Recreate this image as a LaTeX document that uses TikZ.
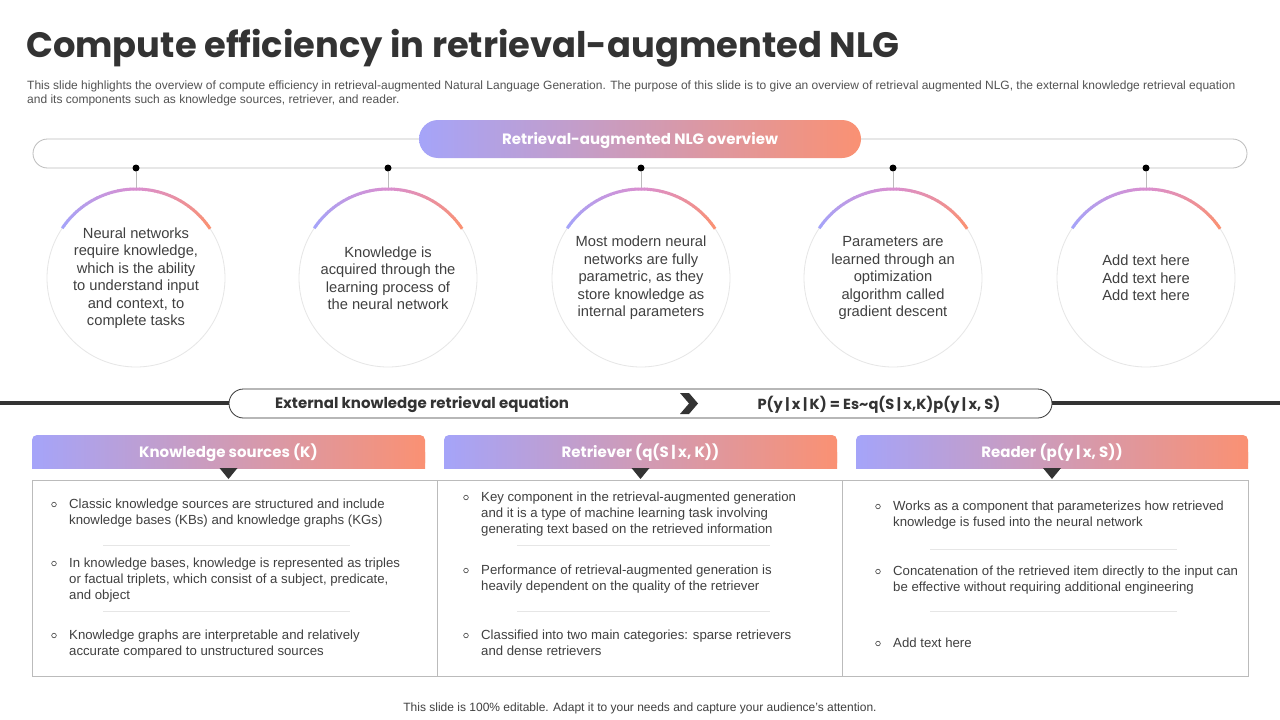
\documentclass[tikz,border=0pt]{standalone}
\usepackage{fontspec}
\setmainfont{Liberation Sans}
\newfontfamily\pop{Poppins}
\usetikzlibrary{calc}
\definecolor{lav}{HTML}{A5A4F9}
\definecolor{midc}{HTML}{D98FD0}
\definecolor{sal}{HTML}{FA9173}
\definecolor{ink}{HTML}{333333}
\definecolor{txt}{HTML}{404040}
\definecolor{linegray}{HTML}{BBBBBB}
\definecolor{faint}{HTML}{E6E6E6}
\tikzset{
  grad/.style={left color=lav, middle color=midc, right color=sal},
  circ/.style={circle, draw=faint, line width=0.8pt, minimum size=178pt, inner sep=0pt},
  ctext/.style={align=center, font=\fontsize{14.7}{17.5}\selectfont, text=txt, inner sep=0pt},
  dotn/.style={circle, fill=black, minimum size=7pt, inner sep=0pt},
  hdrtext/.style={font=\pop\bfseries\fontsize{15}{18}\selectfont, text=white, inner sep=0pt},
  bul/.style={anchor=base west, align=left, font=\fontsize{13.2}{16}\selectfont, text=txt, inner sep=0pt},
  bulmark/.style={circle, draw=txt, line width=0.6pt, minimum size=4.6pt, inner sep=0pt},
  sepline/.style={draw=faint, line width=0.8pt},
  tri/.style={fill=ink},
}
\newcommand\gradarcc[2]{%
  \foreach \k in {0,...,27}{%
    \pgfmathsetmacro\pp{100-\k*100/27}%
    \draw[lav!\pp!midc, line width=3pt] ($(#1,#2)+(-146+2*\k:89)$) arc[start angle=-146+2*\k, end angle=-143.6+2*\k, radius=89];
    \draw[midc!\pp!sal, line width=3pt] ($(#1,#2)+(-90+2*\k:89)$) arc[start angle=-90+2*\k, end angle=-87.6+2*\k, radius=89];
  }%
}
\begin{document}
\begin{tikzpicture}[x=1pt, y=-1pt]
\useasboundingbox[fill=white] (0,0) rectangle (1280,720);

% title
\node[anchor=base west, inner sep=0pt, font=\pop\bfseries\fontsize{35.3}{40}\selectfont, text=ink] (title) at (26,57) {Compute efficiency in retrieval-augmented NLG};
% (base anchor of a multi-line node = last line)
\node[anchor=base west, inner sep=0pt, align=left, font=\fontsize{12}{14}\selectfont, text=txt!90] (sub) at (27,103) {This slide highlights the overview of compute efficiency in retrieval-augmented Natural Language Generation. The purpose of this slide is to give an overview of retrieval augmented NLG, the external knowledge retrieval equation\\and its components such as knowledge sources, retriever, and reader.};

% top bar and banner
\node[draw=linegray, line width=0.8pt, rounded corners=14.5pt, minimum width=1214pt, minimum height=29pt, inner sep=0pt] (bar) at (640,153.5) {};
\node[grad, rounded corners=19pt, minimum width=442pt, minimum height=38pt, inner sep=0pt] (banner) at (640,139) {};
\node[font=\pop\bfseries\fontsize{15}{18}\selectfont, text=white, inner sep=0pt] (bannertext) at (640,140.5) {Retrieval-augmented NLG overview};

% circles
\foreach \i/\cx in {1/136,2/388,3/641,4/893,5/1146}{
  \node[circ] (c\i) at (\cx,278) {};
  \node[dotn] (d\i) at (\cx,168) {};
  \draw[linegray, line width=0.8pt] (d\i) -- (c\i.north);
  \gradarcc{\cx}{278}
}
\node[ctext] (t1) at (c1) {Neural networks\\require knowledge,\\which is the ability\\to understand input\\and context, to\\complete tasks};
\node[ctext] (t2) at (c2) {Knowledge is\\acquired through the\\learning process of\\the neural network};
\node[ctext] (t3) at (c3) {Most modern neural\\networks are fully\\parametric, as they\\store knowledge as\\internal parameters};
\node[ctext] (t4) at (c4) {Parameters are\\learned through an\\optimization\\algorithm called\\gradient descent};
\node[ctext] (t5) at (c5) {Add text here\\Add text here\\Add text here};

% equation row
\coordinate (lineL) at (0,403);
\coordinate (lineR) at (1280,403);
\draw[ink, line width=4pt] (lineL) -- (lineR);
\node[draw=ink, fill=white, line width=0.8pt, rounded corners=14.5pt, minimum width=823pt, minimum height=29pt, inner sep=0pt] (eq) at (640.5,403.5) {};
\node[font=\pop\bfseries\fontsize{15}{18}\selectfont, text=ink, inner sep=0pt] (eqlabel) at (422,405) {External knowledge retrieval equation};
\fill[ink] (680,393) -- (689,393) -- (698,403.5) -- (689,414) -- (680,414) -- (689,403.5) -- cycle;
\node[font=\pop\bfseries\fontsize{14.6}{18}\selectfont, text=ink, inner sep=0pt] (eqtext) at (879,405) {P(y\,|\,x\,|\,K) = Es\textasciitilde q(S\,|\,x,K)p(y\,|\,x, S)};

% headers
\foreach \i/\xa/\xb/\lab in {1/32/425/{Knowledge sources (K)},2/444/837/{Retriever (q(S\,|\,x, K))},3/856/1248/{Reader (p(y\,|\,x, S))}}{
  \shade[grad, rounded corners=5pt] (\xa,468) -- (\xa,435) -- (\xb,435) -- (\xb,468) -- cycle;
  \shade[grad] (\xa,452) rectangle (\xb,468);
  \node[hdrtext] (h\i) at ({(\xa+\xb)/2},453) {\lab};
  \fill[tri] ({(\xa+\xb)/2-9},468) -- ({(\xa+\xb)/2+9},468) -- ({(\xa+\xb)/2},479) -- cycle;
}

% content box
\draw[linegray, line width=0.8pt] (32,480) rectangle (1248,676);
\draw[linegray, line width=0.8pt] (437,480) -- (437,676);
\draw[linegray, line width=0.8pt] (842,480) -- (842,676);

% column 1
\node[bulmark] (b11) at (54,504.5) {};
\node[bul] (p11) at (69,524.5) {Classic knowledge sources are structured and include\\knowledge bases (KBs) and knowledge graphs (KGs)};
\draw[sepline] (103,545) -- (350,545);
\node[bulmark] (b12) at (54,563.5) {};
\node[bul] (p12) at (69,599.5) {In knowledge bases, knowledge is represented as triples\\or factual triplets, which consist of a subject, predicate,\\and object};
\draw[sepline] (103,611) -- (350,611);
\node[bulmark] (b13) at (54,635.5) {};
\node[bul] (p13) at (69,655.5) {Knowledge graphs are interpretable and relatively\\accurate compared to unstructured sources};

% column 2
\node[bulmark] (b21) at (466,497.5) {};
\node[bul] (p21) at (481,533.5) {Key component in the retrieval-augmented generation\\and it is a type of machine learning task involving\\generating text based on the retrieved information};
\draw[sepline] (517,545) -- (770,545);
\node[bulmark] (b22) at (466,570.5) {};
\node[bul] (p22) at (481,590.5) {Performance of retrieval-augmented generation is\\heavily dependent on the quality of the retriever};
\draw[sepline] (517,611) -- (770,611);
\node[bulmark] (b23) at (466,635.5) {};
\node[bul] (p23) at (481,655.5) {Classified into two main categories: sparse retrievers\\and dense retrievers};

% column 3
\node[bulmark] (b31) at (878,506.5) {};
\node[bul] (p31) at (893,526.5) {Works as a component that parameterizes how retrieved\\knowledge is fused into the neural network};
\draw[sepline] (930,549) -- (1177,549);
\node[bulmark] (b32) at (878,571.5) {};
\node[bul] (p32) at (893,591.5) {Concatenation of the retrieved item directly to the input can\\be effective without requiring additional engineering};
\draw[sepline] (930,611) -- (1177,611);
\node[bulmark] (b33) at (878,643.5) {};
\node[bul] (p33) at (893,647.5) {Add text here};

% footer
\node[font=\fontsize{12}{14}\selectfont, text=txt, inner sep=0pt] (foot) at (640,708) {This slide is 100\% editable. Adapt it to your needs and capture your audience’s attention.};
\end{tikzpicture}
\end{document}
